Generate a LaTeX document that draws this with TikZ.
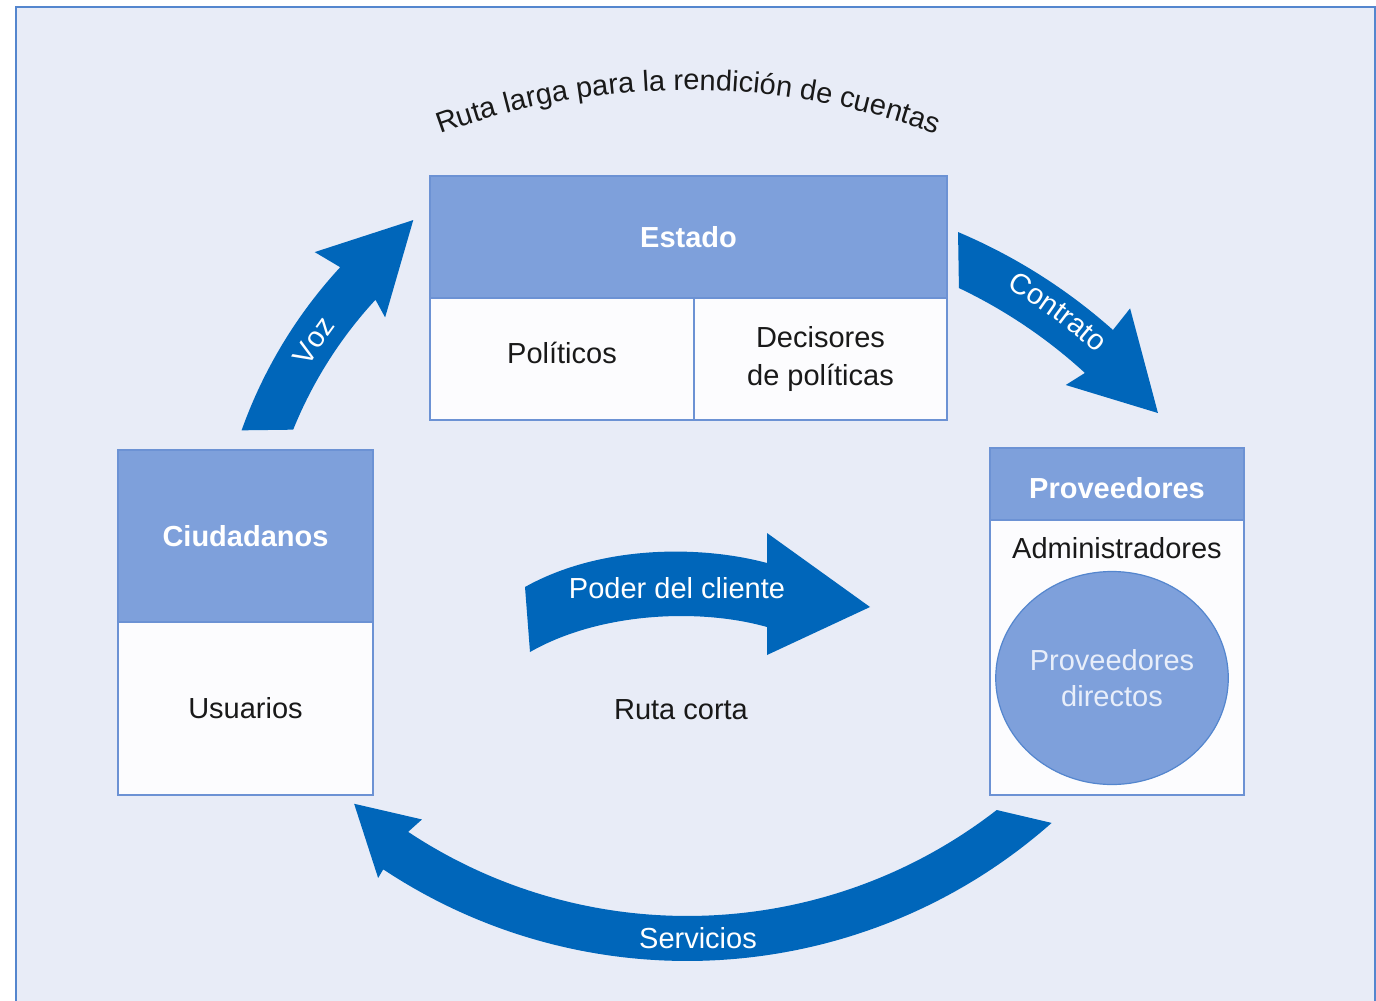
\documentclass[tikz,border=0pt]{standalone}
\usepackage{fontspec}
\setmainfont{Liberation Sans}
\usetikzlibrary{positioning,shapes.geometric,decorations.text}

\definecolor{fondo}{RGB}{232,236,247}
\definecolor{marco}{RGB}{84,134,206}
\definecolor{cabecera}{RGB}{126,160,219}
\definecolor{borde}{RGB}{108,146,212}
\definecolor{celda}{RGB}{252,252,254}
\definecolor{flechaazul}{RGB}{0,102,186}
\definecolor{textoclaro}{RGB}{232,238,250}

\newcommand{\letra}{\fontsize{14.5}{19}\selectfont}

\tikzset{
  cabeza/.style={draw=borde, line width=0.8pt, fill=cabecera, text=white, font=\bfseries\letra, inner sep=0pt, outer sep=0pt},
  cuerpo/.style={draw=borde, line width=0.8pt, fill=celda, text=black!90, font=\letra, align=center, inner sep=0pt, outer sep=0pt},
  texto/.style={text=black!90, font=\letra, inner sep=0pt},
  rotulo/.style={text=white, font=\letra, inner sep=0pt},
  circulo/.style={ellipse, draw=marco, line width=0.6pt, fill=cabecera, text=textoclaro, font=\fontsize{14.5}{18}\selectfont, align=center, minimum width=112pt, minimum height=106.5pt, inner sep=0pt},
  flecha/.style={fill=flechaazul}
}

\begin{document}
\begin{tikzpicture}[x=0.5pt,y=-0.5pt]
\useasboundingbox (0,0) rectangle (1376,1001);
\fill[white] (0,0) rectangle (1376,1001);

%Shape: Panel
\fill[fondo] (16,7) rectangle (1375,1001);
\draw[marco, line width=1pt] (16,1001) -- (16,7) -- (1375,7) -- (1375,1001);

%Curved text on top
\path[decorate, decoration={text along path, text align=center,
  text={|\letra\color{black!90}|Ruta larga para la rendición de cuentas}}]
  (688,810) ++(-111:720) arc[start angle=-111, end angle=-69, radius=720];

%Shape: Arrow Voz
\begin{scope}[shift={(690,590)}]
\fill[flecha] (-160.4:476) arc[start angle=-160.4, end angle=-137.3, radius=476] -- (-138:505) -- (-126.8:462) -- (-138.2:409) -- (-137.3:428) arc[start angle=-137.3, end angle=-158, radius=428] -- cycle;
\path[decorate, decoration={text along path, text align=center,
  text={|\letra\color{white}|Voz}}]
  (-153:442) arc[start angle=-153, end angle=-140, radius=442];
\end{scope}
%Shape: Arrow Contrato
\begin{scope}[shift={(738.5,751)}]
\fill[flecha] (-67.07:563.5) arc[start angle=-67.07, end angle=-48.35, radius=563.5] -- (-48.5:591) -- (-38.86:538.7) -- (-48.2:491) -- (-47.5:512.8) arc[start angle=-47.5, end angle=-64.54, radius=512.8] -- cycle;
\path[decorate, decoration={text along path, text align=center,
  text={|\letra\color{white}|Contrato}}]
  (-64:535) arc[start angle=-64, end angle=-44, radius=535];
\end{scope}
%Shape: Arrow Servicios
\begin{scope}[shift={(687.2,411)}]
\fill[flecha] (48.5:550) arc[start angle=48.5, end angle=123.55, radius=550] -- (123.5:560) -- (130.3:515) -- (123:487) -- (123.55:505) arc[start angle=123.55, end angle=52.2, radius=505] -- cycle;
\end{scope}
%Shape: Arrow Poder del cliente
\fill[flecha] (525,587) .. controls (600,545) and (700,545) .. (767,563) -- (767,533) -- (870,607) -- (767,655) -- (767,627) .. controls (700,608) and (600,612) .. (530,652) -- cycle;

% Estado
\node[cabeza, minimum width=258.5pt, minimum height=61pt] (estado) at (688.5,237) {Estado};
\node[cuerpo, minimum width=132pt, minimum height=61pt, text depth=6pt, below right=0pt and 0pt of estado.south west] (politicos) {Políticos};
\node[cuerpo, minimum width=126.5pt, minimum height=61pt, right=0pt of politicos] (decisores) {Decisores\\de políticas};

% Ciudadanos
\node[cabeza, minimum width=127.5pt, minimum height=86pt] (ciudadanos) at (245.5,536) {Ciudadanos};
\node[cuerpo, minimum width=127.5pt, minimum height=86.5pt, below=0pt of ciudadanos] (usuarios) {Usuarios};

% Proveedores
\node[cabeza, minimum width=127pt, minimum height=36pt, text height=14.5pt] (proveedores) at (1117,484) {Proveedores};
\node[cuerpo, minimum width=127pt, minimum height=137.5pt, below=0pt of proveedores] (provcuerpo) {};
\node[texto] (administradores) at (1117,548) {Administradores};
\node[circulo] (directos) at (1112,678) {Proveedores\\directos};

% Text Node
\node[rotulo] (poder) at (677,588) {Poder del cliente};
\node[rotulo] (servicios) at (698,938) {Servicios};
\node[texto] (rutacorta) at (681,710) {Ruta corta};
\end{tikzpicture}
\end{document}
